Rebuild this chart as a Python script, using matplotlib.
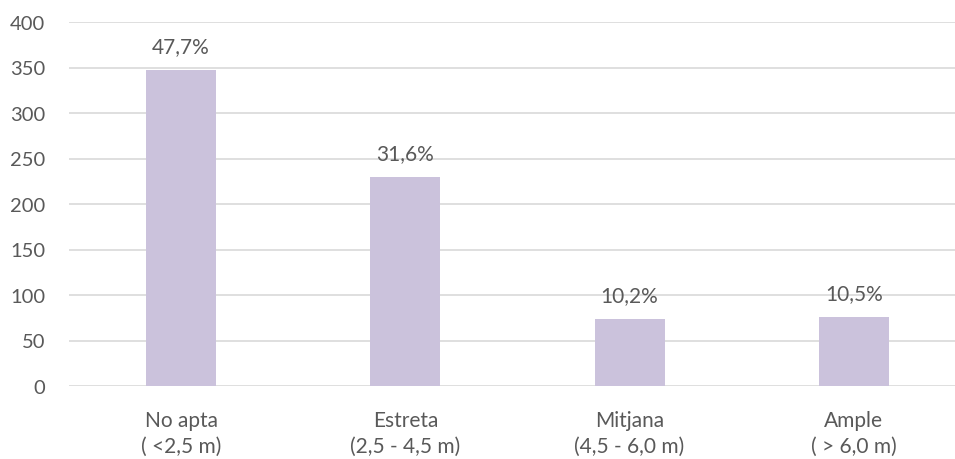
import matplotlib
matplotlib.use("Agg")
from matplotlib import pyplot as plt
import numpy as np

categories = ["No apta\n( <2,5 m)", "Estreta\n(2,5 - 4,5 m)", "Mitjana\n(4,5 - 6,0 m)", "Ample\n( > 6,0 m)"]
values = [347, 230, 74, 76]
percent_labels = ["47,7%", "31,6%", "10,2%", "10,5%"]
yticks = [0, 50, 100, 150, 200, 250, 300, 350, 400]

plt.rcParams['font.family'] = ['Lato', 'DejaVu Sans']
text_color = '#595959'
fsize = 15

fig = plt.figure(figsize=(9.55, 4.6), dpi=100)
# axes spans one full category slot per bar, right edge runs past the image
ax = fig.add_axes([69 / 955, (460 - 387) / 460, (966 - 69) / 955, (387 - 23) / 460])

x = np.arange(len(categories))
bars = ax.bar(x, values, width=0.312, color='#CBC2DC', zorder=3)

for b, lab in zip(bars, percent_labels):
    ax.annotate(lab, (b.get_x() + b.get_width() / 2, b.get_height()),
                xytext=(0, 10), textcoords='offset points',
                ha='center', va='bottom', fontsize=fsize, color=text_color)

ax.set_xlim(-0.5, len(categories) - 0.5)
ax.set_ylim(0, 400)
ax.set_yticks(yticks)
ax.set_xticks(x)
ax.set_xticklabels(categories, fontsize=fsize, color=text_color, linespacing=1.4)
ax.tick_params(axis='y', labelsize=14.5, labelcolor=text_color, length=0, pad=17)
ax.tick_params(axis='x', length=0, pad=17)

ax.grid(axis='y', color='#D9D9D9', linewidth=1.2, zorder=0)
for s in ax.spines.values():
    s.set_visible(False)

fig.savefig('out.png', dpi=100)
